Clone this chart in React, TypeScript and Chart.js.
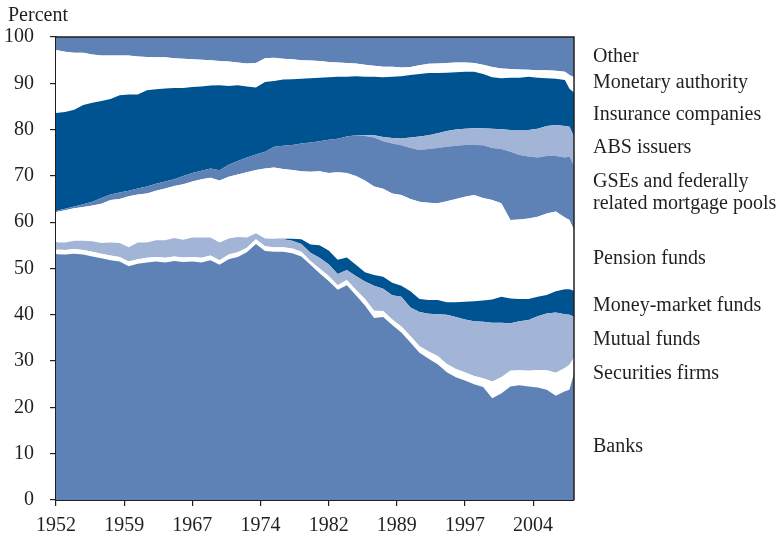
import React, { useEffect, useRef } from "react";
import { Chart, registerables } from "chart.js";
Chart.register(...registerables);

// Year of each observation (share of total, percent)
const years = [
  1952, 1953, 1954, 1955, 1956, 1957, 1958, 1959, 1960, 1961,
  1962, 1963, 1964, 1965, 1966, 1967, 1968, 1969, 1970, 1971,
  1972, 1973, 1974, 1975, 1976, 1977, 1978, 1979, 1980, 1981,
  1982, 1983, 1984, 1985, 1986, 1987, 1988, 1989, 1990, 1991,
  1992, 1993, 1994, 1995, 1996, 1997, 1998, 1999, 2000, 2001,
  2002, 2003, 2004, 2005, 2006, 2007, 2008, 2008.5, 2009,
];

const banks = [
  53.1, 53.0, 53.2, 53.0, 52.6, 52.2, 51.8, 51.5, 50.5, 51.0,
  51.3, 51.5, 51.3, 51.6, 51.4, 51.5, 51.3, 51.8, 50.8, 52.0,
  52.5, 53.5, 55.3, 53.8, 53.6, 53.6, 53.3, 52.6, 50.8, 49.0,
  47.3, 45.4, 46.4, 44.2, 42.0, 39.3, 39.5, 37.8, 36.2, 34.0,
  31.8, 30.5, 29.3, 27.6, 26.5, 25.8, 25.0, 24.4, 22.0, 23.0,
  24.5, 24.8, 24.5, 24.3, 23.8, 22.5, 23.5, 23.8, 27.4,
];
const securitiesFirms = [
  1.0, 1.0, 1.0, 1.0, 1.0, 1.0, 1.0, 1.0, 1.0, 1.0,
  1.0, 1.0, 1.0, 1.0, 1.0, 1.0, 1.0, 1.0, 1.0, 1.0,
  1.0, 1.0, 1.0, 1.0, 1.0, 1.0, 1.0, 1.0, 0.8, 1.0,
  1.1, 1.0, 1.1, 1.2, 1.4, 1.6, 1.3, 1.2, 1.3, 1.4,
  1.4, 1.6, 1.8, 1.8, 1.8, 1.8, 1.8, 1.9, 3.6, 3.5,
  3.4, 3.2, 3.4, 3.8, 4.2, 5.0, 5.0, 5.4, 3.4,
];
const mutualFunds = [
  1.5, 1.6, 1.8, 2.0, 2.3, 2.3, 2.8, 3.0, 3.1, 3.6,
  3.3, 3.6, 3.8, 4.0, 3.8, 4.2, 4.4, 3.9, 3.8, 3.5,
  3.3, 2.2, 1.3, 1.7, 1.8, 1.7, 1.7, 1.7, 1.8, 2.3,
  2.5, 2.4, 2.2, 3.0, 3.8, 5.4, 4.8, 5.2, 6.4, 6.2,
  7.4, 8.1, 9.0, 10.6, 11.2, 11.4, 11.8, 12.2, 12.7, 11.8,
  10.3, 10.6, 11.0, 11.6, 12.3, 13.0, 11.6, 10.8, 8.8,
];
const moneyMarketFunds = [
  0, 0, 0, 0, 0, 0, 0, 0, 0, 0,
  0, 0, 0, 0, 0, 0, 0, 0, 0, 0,
  0, 0, 0, 0, 0, 0.1, 0.4, 1.0, 1.8, 2.7,
  3.0, 3.1, 2.7, 2.4, 2.0, 2.3, 2.6, 2.7, 2.4, 3.5,
  2.8, 3.0, 3.1, 2.7, 3.2, 3.8, 4.3, 4.6, 5.0, 5.6,
  5.3, 4.8, 4.5, 4.2, 4.0, 4.6, 5.4, 5.5, 5.6,
];
const pensionFunds = [
  6.6, 7.0, 7.0, 7.3, 7.7, 8.5, 9.2, 9.5, 11.0, 10.4,
  10.6, 10.7, 11.2, 11.2, 12.0, 12.1, 12.6, 12.9, 13.4, 13.3,
  13.5, 14.1, 13.7, 15.1, 15.4, 15.1, 14.9, 14.7, 15.7, 16.0,
  16.7, 18.9, 18.2, 19.2, 19.8, 19.1, 19.0, 19.3, 19.6, 19.9,
  21.0, 21.0, 20.9, 21.8, 22.3, 22.7, 23.0, 22.1, 21.5, 20.2,
  17.0, 17.2, 17.4, 17.3, 17.6, 17.2, 15.5, 15.0, 13.1,
];
const gses = [
  0.3, 0.3, 0.4, 0.6, 0.8, 1.2, 1.2, 1.4, 1.2, 1.3,
  1.5, 1.5, 1.5, 1.5, 1.8, 1.8, 1.8, 2.0, 2.2, 2.6,
  2.9, 3.2, 3.3, 3.6, 4.5, 5.0, 5.4, 6.0, 6.3, 6.5,
  7.2, 7.2, 7.9, 8.8, 9.6, 10.6, 10.3, 10.8, 10.7, 11.0,
  11.2, 11.6, 11.9, 11.8, 11.5, 11.2, 10.8, 11.4, 11.2, 11.7,
  14.7, 13.9, 13.4, 12.8, 12.4, 12.0, 13.0, 13.7, 13.9,
];
const absIssuers = [
  0, 0, 0, 0, 0, 0, 0, 0, 0, 0,
  0, 0, 0, 0, 0, 0, 0, 0, 0, 0,
  0, 0, 0, 0, 0, 0, 0, 0, 0, 0,
  0, 0, 0, 0, 0.2, 0.5, 0.9, 1.2, 1.5, 2.3,
  2.9, 3.0, 3.2, 3.4, 3.5, 3.5, 3.6, 3.7, 4.2, 4.3,
  4.7, 5.4, 5.7, 6.2, 6.5, 6.7, 6.8, 6.4, 6.3,
];
const insurance = [
  21.1, 20.9, 20.9, 21.4, 21.4, 21.0, 20.6, 21.0, 20.8, 20.3,
  20.8, 20.4, 20.1, 19.7, 19.0, 18.6, 18.2, 17.9, 18.4, 17.0,
  16.4, 15.3, 14.5, 15.1, 14.2, 14.3, 14.2, 14.0, 13.9, 13.7,
  13.5, 13.4, 12.9, 12.7, 12.6, 12.6, 12.9, 13.2, 13.4, 13.5,
  13.5, 13.4, 13.0, 12.6, 12.4, 12.3, 12.2, 11.7, 11.1, 11.0,
  11.3, 11.3, 11.5, 11.0, 10.3, 10.0, 9.9, 8.2, 9.5,
];
const monetaryAuthority = [
  13.6, 13.0, 12.3, 11.3, 10.4, 9.8, 9.4, 8.6, 8.4, 8.2,
  7.2, 6.9, 6.7, 6.4, 6.3, 6.0, 5.8, 5.5, 5.2, 5.3,
  4.9, 5.0, 5.3, 5.1, 5.0, 4.5, 4.3, 4.0, 3.8, 3.6,
  3.3, 3.1, 3.0, 2.8, 2.6, 2.4, 2.3, 2.2, 1.9, 1.7,
  1.9, 2.0, 2.1, 2.1, 2.1, 2.0, 1.9, 2.0, 2.2, 2.1,
  1.9, 1.8, 1.5, 1.6, 1.7, 1.7, 1.8, 3.0, 3.3,
];
const other = [
  2.8, 3.2, 3.4, 3.4, 3.8, 4.0, 4.0, 4.0, 4.0, 4.2,
  4.3, 4.4, 4.4, 4.6, 4.7, 4.8, 4.9, 5.0, 5.2, 5.3,
  5.5, 5.7, 5.6, 4.6, 4.5, 4.7, 4.8, 5.0, 5.1, 5.2,
  5.4, 5.5, 5.6, 5.7, 6.0, 6.2, 6.4, 6.4, 6.6, 6.5,
  6.1, 5.8, 5.7, 5.6, 5.5, 5.5, 5.6, 6.0, 6.5, 6.8,
  6.9, 7.0, 7.1, 7.2, 7.2, 7.3, 7.5, 8.2, 8.7,
];

const tickPositions = [1952, 1959.5, 1967, 1974.5, 1982, 1989.5, 1997, 2004.5];
const tickLabels = ["1952", "1959", "1967", "1974", "1982", "1989", "1997", "2004"];

const MED = "#5e82b6";
const DARK = "#005391";
const LIGHT = "#a3b5d6";
const WHITE = "#ffffff";
const TEXT = "#231f20";
const FONT = "'Liberation Serif', 'Times New Roman', serif";

const series = [
  { label: "Banks", data: banks, color: MED },
  { label: "Securities firms", data: securitiesFirms, color: WHITE },
  { label: "Mutual funds", data: mutualFunds, color: LIGHT },
  { label: "Money-market funds", data: moneyMarketFunds, color: DARK },
  { label: "Pension funds", data: pensionFunds, color: WHITE },
  { label: "GSEs and federally related mortgage pools", data: gses, color: MED },
  { label: "ABS issuers", data: absIssuers, color: LIGHT },
  { label: "Insurance companies", data: insurance, color: DARK },
  { label: "Monetary authority", data: monetaryAuthority, color: WHITE },
  { label: "Other", data: other, color: MED },
];

const sideLabels = [
  { text: ["Other"], y: 55 },
  { text: ["Monetary authority"], y: 81 },
  { text: ["Insurance companies"], y: 113 },
  { text: ["ABS issuers"], y: 146 },
  { text: ["GSEs and federally", "related mortgage pools"], y: 180 },
  { text: ["Pension funds"], y: 257 },
  { text: ["Money-market funds"], y: 304 },
  { text: ["Mutual funds"], y: 338 },
  { text: ["Securities firms"], y: 372 },
  { text: ["Banks"], y: 445 },
];

const framePlugin = {
  id: "frame",
  afterDraw(chart: any) {
    const { ctx, chartArea: a } = chart;
    ctx.save();
    ctx.strokeStyle = TEXT;
    ctx.lineWidth = 1.5;
    ctx.beginPath();
    ctx.moveTo(a.left, a.top);
    ctx.lineTo(a.right, a.top);
    ctx.lineTo(a.right, a.bottom);
    ctx.stroke();
    ctx.restore();
  },
};

export default function App() {
  const ref = useRef<HTMLCanvasElement>(null);

  useEffect(() => {
    const datasets = series.map((s, i) => ({
      label: s.label,
      data: s.data.map((v, j) => ({ x: years[j], y: v })),
      backgroundColor: s.color,
      borderColor: s.color,
      borderWidth: 0,
      pointRadius: 0,
      tension: 0,
      fill: i === 0 ? "origin" : "-1",
    }));

    const chart = new Chart(ref.current as HTMLCanvasElement, {
      type: "line",
      data: { datasets },
      plugins: [framePlugin],
      options: {
        animation: false,
        responsive: false,
        events: [],
        layout: { padding: { top: 37, right: 205, left: 0, bottom: 0 } },
        plugins: { legend: { display: false }, tooltip: { enabled: false } },
        scales: {
          x: {
            type: "linear",
            min: 1952,
            max: 2009,
            afterBuildTicks: (axis: any) => {
              axis.ticks = tickPositions.map((v) => ({ value: v }));
            },
            afterFit: (scale: any) => {
              scale.height = 39;
            },
            ticks: {
              autoSkip: false,
              maxRotation: 0,
              padding: 8,
              color: TEXT,
              font: { family: FONT, size: 20 },
              callback: (_v: any, i: number) => tickLabels[i],
            },
            grid: {
              display: true,
              drawOnChartArea: false,
              drawTicks: true,
              tickLength: 6,
              color: TEXT,
              lineWidth: 1.2,
            },
            border: { display: true, color: TEXT, width: 2 },
          },
          y: {
            stacked: true,
            min: 0,
            max: 100,
            afterFit: (scale: any) => {
              scale.width = 56;
            },
            ticks: {
              stepSize: 10,
              padding: 16,
              color: TEXT,
              font: { family: FONT, size: 20 },
            },
            grid: {
              display: true,
              drawOnChartArea: false,
              drawTicks: true,
              tickLength: 6,
              color: TEXT,
              lineWidth: 1.2,
            },
            border: { display: true, color: TEXT, width: 2 },
          },
        },
      },
    } as any);
    return () => chart.destroy();
  }, []);

  const textStyle = {
    position: "absolute" as const,
    fontFamily: FONT,
    fontSize: 20,
    lineHeight: "22px",
    color: TEXT,
    whiteSpace: "nowrap" as const,
  };

  return (
    <div style={{ position: "fixed", left: 0, top: 0, width: 779, height: 539, background: "#fff" }}>
      <canvas
        ref={ref}
        width={779}
        height={539}
        style={{ position: "absolute", left: 0, top: 0, width: 779, height: 539 }}
      />
      <div style={{ ...textStyle, left: 8, top: 3 }}>Percent</div>
      {sideLabels.map((l) => (
        <div key={l.text[0]} style={{ ...textStyle, left: 593, top: l.y - 11 }}>
          {l.text.map((t, i) => (
            <div key={i}>{t}</div>
          ))}
        </div>
      ))}
    </div>
  );
}
